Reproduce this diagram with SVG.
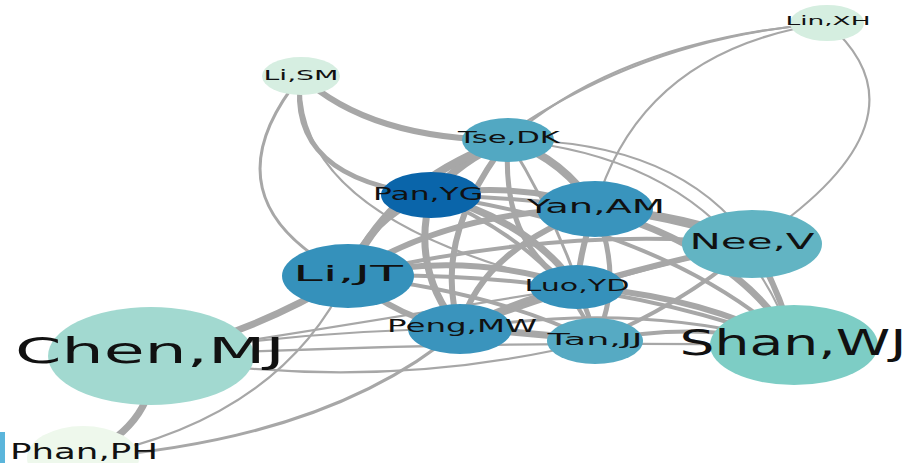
<svg xmlns="http://www.w3.org/2000/svg" width="911" height="463" viewBox="0 0 911 463">
<style>
.e{fill:none;stroke:#a7a7a7;stroke-linecap:round}
.w1{stroke-width:1.6}.w2{stroke-width:2.2}.w3{stroke-width:3}.w4{stroke-width:4}.w5{stroke-width:5}.w6{stroke-width:6}.w7{stroke-width:7}.w8{stroke-width:8}
.t{font-family:"DejaVu Sans","Liberation Sans",sans-serif;fill:#111;text-anchor:middle}
</style>
<rect width="911" height="463" fill="#ffffff"/>
<g id="connectors">
<path class="e w7" d="M151,356 Q160,420 83,458"/>
<path class="e w7" d="M151,356 Q250,335 348,276"/>
<path class="e w2" d="M151,356 Q300,330 460,329"/>
<path class="e w2" d="M151,356 Q380,395 595,341"/>
<path class="e w2" d="M151,356 Q470,340 794,345"/>
<path class="e w2" d="M151,356 Q380,320 577,287"/>
<path class="e w3" d="M83,458 Q330,440 460,329"/>
<path class="e w2" d="M83,458 Q280,420 348,276"/>
<path class="e w3" d="M301,76 Q200,200 348,276"/>
<path class="e w5" d="M301,76 Q285,180 431,195"/>
<path class="e w2" d="M301,76 Q290,220 577,287"/>
<path class="e w6" d="M301,76 Q370,140 508,140"/>
<path class="e w2" d="M827,23 Q620,40 508,140"/>
<path class="e w2" d="M827,23 Q600,40 431,195"/>
<path class="e w2" d="M827,23 Q640,50 595,209"/>
<path class="e w2" d="M827,23 Q940,120 752,244"/>
<path class="e w8" d="M508,140 Q460,160 431,195"/>
<path class="e w8" d="M508,140 Q565,160 595,209"/>
<path class="e w8" d="M508,140 Q390,180 348,276"/>
<path class="e w5" d="M508,140 Q500,250 577,287"/>
<path class="e w6" d="M508,140 Q430,240 460,329"/>
<path class="e w2" d="M508,140 Q680,140 752,244"/>
<path class="e w2" d="M508,140 Q730,160 794,345"/>
<path class="e w3" d="M508,140 Q570,240 595,341"/>
<path class="e w7" d="M431,195 Q370,215 348,276"/>
<path class="e w6" d="M431,195 Q520,180 595,209"/>
<path class="e w7" d="M431,195 Q410,270 460,329"/>
<path class="e w7" d="M431,195 Q530,220 577,287"/>
<path class="e w4" d="M431,195 Q620,200 752,244"/>
<path class="e w4" d="M431,195 Q670,230 794,345"/>
<path class="e w4" d="M431,195 Q560,250 595,341"/>
<path class="e w8" d="M595,209 Q690,215 752,244"/>
<path class="e w7" d="M595,209 Q740,250 794,345"/>
<path class="e w6" d="M595,209 Q580,250 577,287"/>
<path class="e w6" d="M595,209 Q450,210 348,276"/>
<path class="e w6" d="M595,209 Q480,250 460,329"/>
<path class="e w5" d="M595,209 Q625,280 595,341"/>
<path class="e w6" d="M348,276 Q400,320 460,329"/>
<path class="e w6" d="M348,276 Q470,250 577,287"/>
<path class="e w4" d="M348,276 Q560,225 752,244"/>
<path class="e w4" d="M348,276 Q600,270 794,345"/>
<path class="e w4" d="M348,276 Q490,290 595,341"/>
<path class="e w8" d="M577,287 Q520,300 460,329"/>
<path class="e w6" d="M577,287 Q670,260 752,244"/>
<path class="e w6" d="M577,287 Q700,295 794,345"/>
<path class="e w5" d="M577,287 Q590,315 595,341"/>
<path class="e w7" d="M460,329 Q530,332 595,341"/>
<path class="e w4" d="M460,329 Q620,270 752,244"/>
<path class="e w3" d="M460,329 Q640,300 794,345"/>
<path class="e w4" d="M595,341 Q700,320 794,345"/>
<path class="e w4" d="M595,341 Q690,300 752,244"/>
<path class="e w6" d="M752,244 Q780,290 794,345"/>
</g>
<g id="LinXH"><ellipse cx="827" cy="23" rx="37" ry="18" fill="#d5eee0"/><text class="t" x="828" y="25" font-size="12" textLength="85" lengthAdjust="spacingAndGlyphs">Lin,XH</text></g>
<g id="LiSM"><ellipse cx="301" cy="76" rx="39" ry="19" fill="#d6eee1"/><text class="t" x="301" y="80" font-size="14" textLength="75" lengthAdjust="spacingAndGlyphs">Li,SM</text></g>
<g id="TseDK"><ellipse cx="508" cy="140" rx="46" ry="22" fill="#52a8c2"/><text class="t" x="509" y="143" font-size="15" textLength="102" lengthAdjust="spacingAndGlyphs">Tse,DK</text></g>
<g id="PanYG"><ellipse cx="431" cy="195" rx="50" ry="23" fill="#0a65aa"/><text class="t" x="428" y="200" font-size="18" textLength="110" lengthAdjust="spacingAndGlyphs">Pan,YG</text></g>
<g id="YanAM"><ellipse cx="595" cy="209" rx="58" ry="28" fill="#3994bd"/><text class="t" x="596" y="213" font-size="20" textLength="138" lengthAdjust="spacingAndGlyphs">Yan,AM</text></g>
<g id="NeeV"><ellipse cx="752" cy="244" rx="70" ry="34" fill="#62b4c3"/><text class="t" x="752" y="249" font-size="22" textLength="125" lengthAdjust="spacingAndGlyphs">Nee,V</text></g>
<g id="LiJT"><ellipse cx="348" cy="276" rx="66" ry="32" fill="#3591bb"/><text class="t" x="348" y="281" font-size="22" textLength="110" lengthAdjust="spacingAndGlyphs">Li,JT</text></g>
<g id="LuoYD"><ellipse cx="577" cy="287" rx="47" ry="22" fill="#3591bb"/><text class="t" x="577" y="291" font-size="15" textLength="105" lengthAdjust="spacingAndGlyphs">Luo,YD</text></g>
<g id="PengMW"><ellipse cx="460" cy="329" rx="52" ry="25" fill="#3a94bd"/><text class="t" x="462" y="332" font-size="17" textLength="150" lengthAdjust="spacingAndGlyphs">Peng,MW</text></g>
<g id="TanJJ"><ellipse cx="595" cy="341" rx="48" ry="23" fill="#56aac3"/><text class="t" x="595" y="345" font-size="15" textLength="95" lengthAdjust="spacingAndGlyphs">Tan,JJ</text></g>
<g id="ShanWJ"><ellipse cx="794" cy="345" rx="84" ry="40" fill="#7dcdc5"/><text class="t" x="793" y="355" font-size="36" textLength="227" lengthAdjust="spacingAndGlyphs">Shan,WJ</text></g>
<g id="ChenMJ"><ellipse cx="151" cy="356" rx="103" ry="49" fill="#a2d9d0"/><text class="t" x="150" y="363" font-size="35" textLength="270" lengthAdjust="spacingAndGlyphs">Chen,MJ</text></g>
<g id="PhanPH"><ellipse cx="83" cy="458" rx="56" ry="32" fill="#eef8ec"/><text class="t" x="84" y="459" font-size="22" textLength="148" lengthAdjust="spacingAndGlyphs">Phan,PH</text></g>
<rect x="0" y="432" width="5" height="31" fill="#5bb5db"/>
</svg>
